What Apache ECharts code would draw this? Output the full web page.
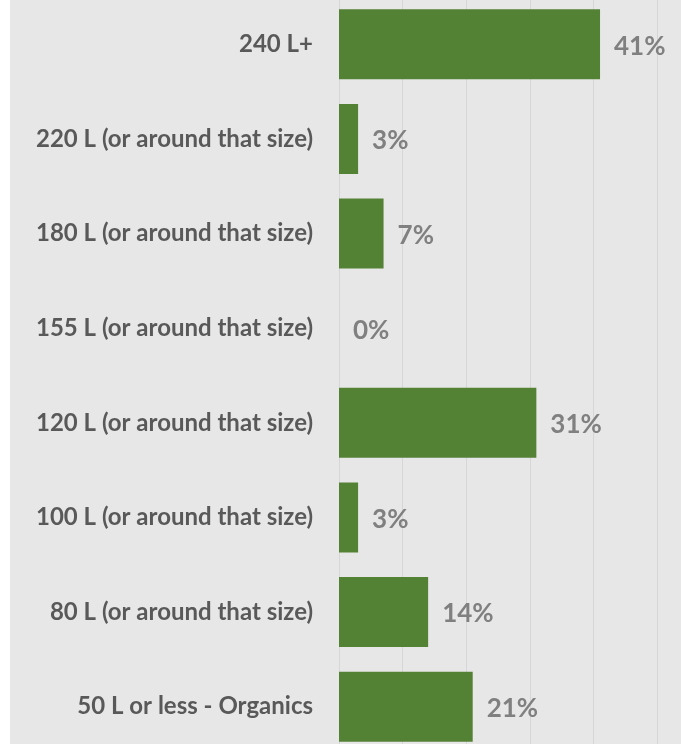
<!DOCTYPE html>
<html>
<head>
<meta charset="utf-8">
<script src="https://cdn.jsdelivr.net/npm/echarts@6/dist/echarts.min.js"></script>
<style>
  html, body { margin: 0; padding: 0; background: #ffffff; }
  #chart { position: absolute; left: 10px; top: 0; width: 671px; height: 744px; }
</style>
</head>
<body>
<div id="chart"></div>
<script>
// bottom to top, as the category axis draws them
const categories = [
  '50 L or less - Organics',
  '80 L (or around that size)',
  '100 L (or around that size)',
  '120 L (or around that size)',
  '155 L (or around that size)',
  '180 L (or around that size)',
  '220 L (or around that size)',
  '240 L+'
];
const shares = [21, 14, 3, 31, 0, 7, 3, 41];

const chart = echarts.init(document.getElementById('chart'));

const option = {
  backgroundColor: '#e7e7e7',
  animation: false,
  grid: {
    left: 329,
    top: -3,
    height: 757,
    width: 382,
    containLabel: false,
    outerBoundsMode: 'none'
  },
  xAxis: {
    type: 'value',
    min: 0,
    max: 60,
    interval: 10,
    axisLabel: { show: false },
    axisLine: { show: false },
    axisTick: { show: false },
    splitLine: { lineStyle: { color: '#d6d6d6', width: 1 } }
  },
  yAxis: {
    type: 'category',
    data: categories,
    axisTick: { show: false },
    axisLine: { show: false },
    axisLabel: {
      margin: 26,
      color: '#595959',
      fontFamily: 'Lato',
      fontWeight: 'bold',
      fontSize: 24
    }
  },
  series: [{
    type: 'bar',
    data: shares,
    barCategoryGap: '26%',
    itemStyle: { color: '#548235' },
    label: {
      show: true,
      position: 'right',
      distance: 14,
      offset: [0, 2],
      formatter: '{c}%',
      color: '#808080',
      fontFamily: 'Lato',
      fontWeight: 'bold',
      fontSize: 26
    }
  }]
};

chart.setOption(option);
</script>
</body>
</html>
